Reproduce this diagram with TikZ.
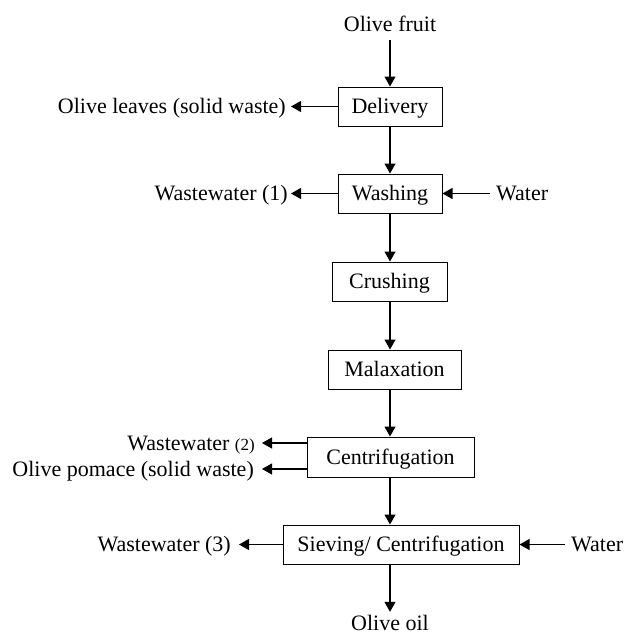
\documentclass[tikz,border=0pt]{standalone}
\usepackage{fontspec}
\setmainfont{Liberation Serif}
\usetikzlibrary{arrows.meta}
\begin{document}
\begin{tikzpicture}[x=1pt,y=-1pt,
  txt/.style={font=\fontsize{22}{26}\selectfont, text height=14pt, text depth=0pt},
  box/.style={txt, draw, line width=1pt, minimum height=39pt, inner sep=0pt},
  lab/.style={txt, inner sep=0pt},
  arr/.style={line width=1.1pt, -{Triangle[length=10pt,width=11pt]}}]
\useasboundingbox (0,0) rectangle (626,634);
% process boxes
\node[box, minimum width=104pt] (del) at (390,106.5) {Delivery};
\node[box, minimum width=104pt] (wash) at (390,193.5) {Washing};
\node[box, minimum width=115pt] (crush) at (389.5,281.5) {Crushing};
\node[box, minimum width=133pt] (malax) at (394.5,369.5) {Malaxation};
\node[box, minimum width=167pt, minimum height=40pt] (cent) at (390.5,457) {Centrifugation};
\node[box, minimum width=236pt] (siev) at (401,544.5) {Sieving/ Centrifugation};
% labels
\node[lab, anchor=base, inner ysep=8pt] (fruit) at (390,32) {Olive fruit};
\node[lab, anchor=base, inner ysep=4pt] (oil) at (390,630) {Olive oil};
\node[lab, anchor=east, inner xsep=5pt] (leaves) at (291,106.5) {Olive leaves (solid waste)};
\node[lab, anchor=east, inner xsep=3pt] (ww1) at (291,193.5) {Wastewater (1)};
\node[lab, anchor=west, inner xsep=6pt] (water1) at (490,193.5) {Water};
\node[lab, anchor=east, inner xsep=7pt] (ww2) at (262,443) {Wastewater {\fontsize{17}{20}\selectfont(2)}};
\node[lab, anchor=east, inner xsep=8pt] (pomace) at (262,469) {Olive pomace (solid waste)};
\node[lab, anchor=east, inner xsep=8pt] (ww3) at (239,544.5) {Wastewater (3)};
\node[lab, anchor=west, inner xsep=6pt] (water2) at (565,544.5) {Water};
% main flow
\draw[arr] (fruit.south) -- (fruit.south |- del.north);
\draw[arr] (del.south) -- (del.south |- wash.north);
\draw[arr] (wash.south) -- (wash.south |- crush.north);
\draw[arr] (crush.south -| del) -- (del |- malax.north);
\draw[arr] (malax.south -| del) -- (del |- cent.north);
\draw[arr] (cent.south -| del) -- (del |- siev.north);
\draw[arr] (siev.south -| del) -- (oil.north);
% side streams
\draw[arr] (del.west) -- (leaves.east);
\draw[arr] (wash.west) -- (ww1.east);
\draw[arr] (water1.west) -- (wash.east);
\draw[arr] (cent.west |- ww2) -- (ww2.east);
\draw[arr] (cent.west |- pomace) -- (pomace.east);
\draw[arr] (siev.west) -- (ww3.east);
\draw[arr] (water2.west) -- (siev.east);
\end{tikzpicture}
\end{document}
